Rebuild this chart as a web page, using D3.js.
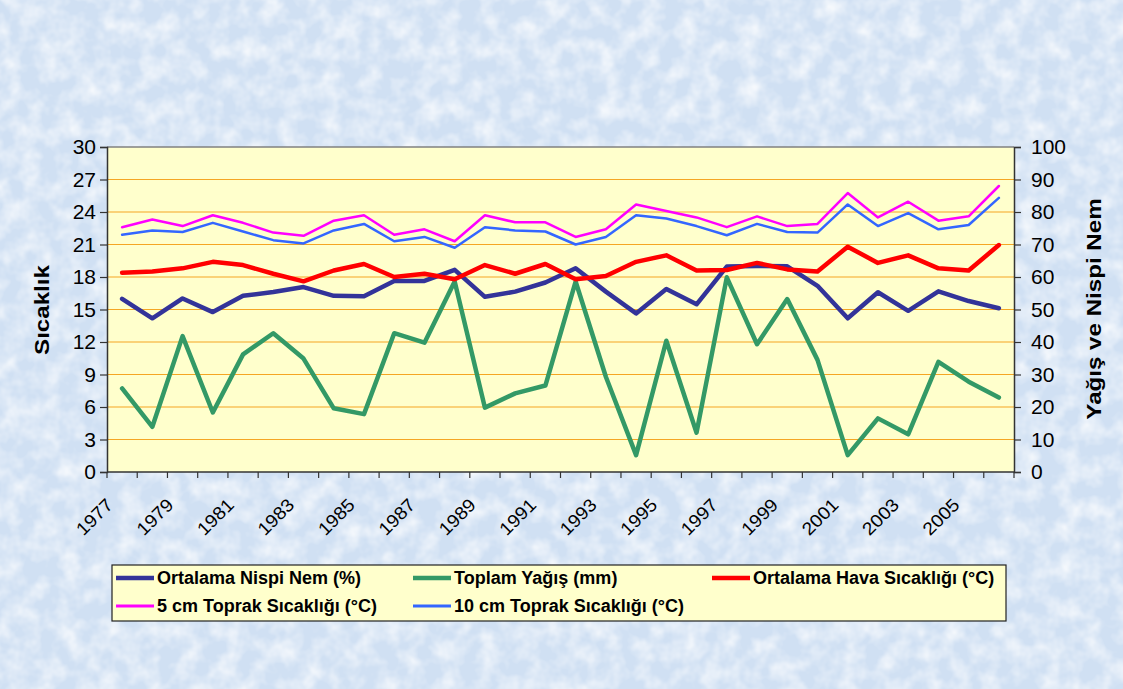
<!DOCTYPE html>
<html>
<head>
<meta charset="utf-8">
<script src="https://cdn.jsdelivr.net/npm/d3@7"></script>
<style>
  body { margin: 0; background: #d3e2f4; }
  svg { display: block; }
  text { font-family: "Liberation Sans", Arial, sans-serif; fill: #000; }
</style>
</head>
<body>
<script>
var years = d3.range(1977, 2007);
var yearLabels = years.filter(function(y) { return y % 2 === 1 && y <= 2005; });

// primary axis (Sıcaklık, °C)
var hava = [18.4, 18.5, 18.8, 19.4, 19.1, 18.3, 17.6, 18.6, 19.2, 18.0,
            18.3, 17.8, 19.1, 18.3, 19.2, 17.8, 18.1, 19.4, 20.0, 18.6,
            18.65, 19.3, 18.7, 18.5, 20.8, 19.3, 20.0, 18.8, 18.6, 20.95];
var toprak5 = [22.6, 23.3, 22.7, 23.7, 23.0, 22.1, 21.8, 23.2, 23.7, 21.9,
               22.4, 21.3, 23.7, 23.05, 23.05, 21.7, 22.4, 24.7, 24.1, 23.5,
               22.6, 23.6, 22.7, 22.9, 25.75, 23.5, 24.95, 23.2, 23.6, 26.4];
var toprak10 = [21.9, 22.3, 22.15, 23.0, 22.2, 21.4, 21.1, 22.3, 22.9, 21.3,
                21.7, 20.7, 22.6, 22.3, 22.2, 21.0, 21.7, 23.7, 23.4, 22.7,
                21.85, 22.9, 22.15, 22.1, 24.7, 22.7, 23.9, 22.4, 22.8, 25.3];
// secondary axis (Yağış ve Nispi Nem)
var nem = [53.3, 47.3, 53.4, 49.2, 54.2, 55.4, 56.9, 54.2, 54.1, 58.8,
           58.8, 62.2, 53.9, 55.5, 58.3, 62.7, 55.5, 48.8, 56.3, 51.6,
           63.2, 63.4, 63.3, 57.3, 47.3, 55.3, 49.6, 55.6, 52.6, 50.4];
var yagis = [25.7, 13.9, 41.8, 18.3, 36.2, 42.7, 34.9, 19.6, 17.8, 42.7,
             39.8, 58.6, 19.8, 24.2, 26.6, 58.6, 29.3, 5.2, 40.4, 12.1,
             59.9, 39.3, 53.2, 34.5, 5.2, 16.5, 11.6, 33.9, 27.8, 22.9];

var leftTicks = d3.range(0, 31, 3);
var rightTicks = d3.range(0, 101, 10);

var series = [
  {name: "Ortalama Nispi Nem (%)", values: nem, axis: "right", color: "#333399", w: 4.5},
  {name: "Toplam Yağış (mm)", values: yagis, axis: "right", color: "#339966", w: 4.5},
  {name: "Ortalama Hava Sıcaklığı (°C)", values: hava, axis: "left", color: "#ff0000", w: 4.5},
  {name: "5 cm Toprak Sıcaklığı (°C)", values: toprak5, axis: "left", color: "#ff00ff", w: 2.5},
  {name: "10 cm Toprak Sıcaklığı (°C)", values: toprak10, axis: "left", color: "#3366ff", w: 2.5}
];

var width = 1123, height = 689;
var plot = {left: 107, top: 147, right: 1014, bottom: 472};

var svg = d3.select("body").append("svg")
  .attr("width", width)
  .attr("height", height);

// textured background
var defs = svg.append("defs");
var f = defs.append("filter").attr("id", "tex")
  .attr("x", 0).attr("y", 0).attr("width", "100%").attr("height", "100%");
f.append("feTurbulence").attr("type", "fractalNoise")
  .attr("baseFrequency", 0.05).attr("numOctaves", 3).attr("seed", 7);
f.append("feColorMatrix").attr("type", "matrix")
  .attr("values", "0 0 0 0 1  0 0 0 0 1  0 0 0 0 1  0 0 0 1.4 -0.5");

svg.append("rect").attr("width", width).attr("height", height).attr("fill", "#d0e0f3");
svg.append("rect").attr("width", width).attr("height", height).attr("filter", "url(#tex)");

var x = d3.scaleBand().domain(years).range([plot.left, plot.right]).padding(0);
var yL = d3.scaleLinear().domain([0, 30]).range([plot.bottom, plot.top]);
var yR = d3.scaleLinear().domain([0, 100]).range([plot.bottom, plot.top]);
function cx(y) { return x(y) + x.bandwidth() / 2; }

// plot area
svg.append("rect")
  .attr("x", plot.left).attr("y", plot.top)
  .attr("width", plot.right - plot.left).attr("height", plot.bottom - plot.top)
  .attr("fill", "#ffffcc");

svg.append("g").selectAll("line")
  .data(leftTicks.slice(1, -1))
  .enter().append("line")
  .attr("x1", plot.left).attr("x2", plot.right)
  .attr("y1", function(d) { return yL(d); })
  .attr("y2", function(d) { return yL(d); })
  .attr("stroke", "#f5a623").attr("stroke-width", 1.2);

svg.append("line")
  .attr("x1", plot.left).attr("x2", plot.right)
  .attr("y1", plot.top).attr("y2", plot.top)
  .attr("stroke", "#808080").attr("stroke-width", 1.5);

// axes
var axL = svg.append("g")
  .attr("transform", "translate(" + plot.left + ",0)")
  .call(d3.axisLeft(yL).tickValues(leftTicks).tickSize(7).tickPadding(4));
var axR = svg.append("g")
  .attr("transform", "translate(" + plot.right + ",0)")
  .call(d3.axisRight(yR).tickValues(rightTicks).tickSize(7).tickPadding(10));
[axL, axR].forEach(function(a) {
  a.select(".domain").attr("stroke", "#333").attr("stroke-width", 1.5);
  a.selectAll(".tick line").attr("stroke", "#333").attr("stroke-width", 1.2);
  a.selectAll("text").attr("font-size", 21).attr("fill", "#000")
    .style("font-family", "'Liberation Sans', Arial, sans-serif");
});

// bottom axis: tick marks between categories, labels under every other year
var bottom = svg.append("g");
bottom.append("line")
  .attr("x1", plot.left).attr("x2", plot.right)
  .attr("y1", plot.bottom).attr("y2", plot.bottom)
  .attr("stroke", "#333").attr("stroke-width", 1.5);
bottom.selectAll(".bt")
  .data(years.concat([null]))
  .enter().append("line")
  .attr("x1", function(d) { return d === null ? plot.right : x(d); })
  .attr("x2", function(d) { return d === null ? plot.right : x(d); })
  .attr("y1", plot.bottom).attr("y2", plot.bottom + 6)
  .attr("stroke", "#333").attr("stroke-width", 1.2);
bottom.selectAll(".lbl")
  .data(yearLabels)
  .enter().append("text")
  .attr("text-anchor", "end")
  .attr("font-size", 18)
  .attr("transform", function(d) {
    return "translate(" + (cx(d) - 8) + "," + 506 + ") rotate(-45) scale(1.08,1)";
  })
  .text(function(d) { return d; });

// axis titles
svg.append("text")
  .attr("transform", "translate(49,310) rotate(-90) scale(1.15,1)")
  .attr("text-anchor", "middle")
  .attr("font-size", 21).attr("font-weight", "bold")
  .text("Sıcaklık");
svg.append("text")
  .attr("transform", "translate(1101,309) rotate(-90) scale(1.15,1)")
  .attr("text-anchor", "middle")
  .attr("font-size", 21).attr("font-weight", "bold")
  .text("Yağış ve Nispi Nem");

// lines
var lineGen = function(s) {
  var sc = s.axis === "left" ? yL : yR;
  return d3.line()
    .x(function(d, i) { return cx(years[i]); })
    .y(function(d) { return sc(d); })(s.values);
};
svg.append("g").selectAll("path")
  .data(series)
  .enter().append("path")
  .attr("d", lineGen)
  .attr("fill", "none")
  .attr("stroke", function(d) { return d.color; })
  .attr("stroke-width", function(d) { return d.w; })
  .attr("stroke-linejoin", "round")
  .attr("stroke-linecap", "round");

// legend
var lg = svg.append("g");
lg.append("rect")
  .attr("x", 112).attr("y", 565).attr("width", 894).attr("height", 56)
  .attr("fill", "#ffffcc").attr("stroke", "#222").attr("stroke-width", 1.2);
var legPos = [[116, 578], [413, 578], [712, 578], [116, 606], [413, 606]];
var items = lg.selectAll(".li")
  .data(series)
  .enter().append("g")
  .attr("transform", function(d, i) { return "translate(" + legPos[i][0] + "," + legPos[i][1] + ")"; });
items.append("line")
  .attr("x1", 0).attr("x2", 38).attr("y1", 0).attr("y2", 0)
  .attr("stroke", function(d) { return d.color; })
  .attr("stroke-width", function(d) { return d.w > 3 ? 4.5 : 3; });
items.append("text")
  .attr("x", 41).attr("y", 0).attr("dy", "0.36em")
  .attr("font-size", 18).attr("font-weight", "bold")
  .text(function(d) { return d.name; });
</script>
</body>
</html>
